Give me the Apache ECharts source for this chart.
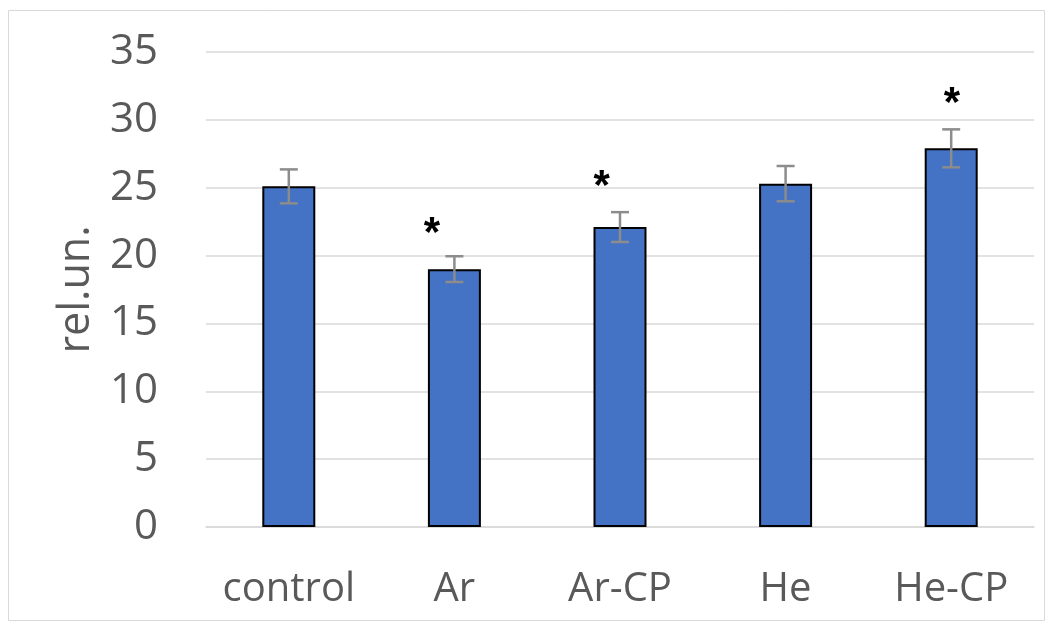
<!DOCTYPE html>
<html><head><meta charset="utf-8">
<script src="https://cdn.jsdelivr.net/npm/echarts@6/dist/echarts.min.js"></script>
<style>html,body{margin:0;padding:0;background:#fff}#c{width:1051px;height:628px}</style>
</head><body><div id="c"></div>
<script>
const categories = ['control', 'Ar', 'Ar-CP', 'He', 'He-CP'];
const values = [25.1, 19.0, 22.1, 25.3, 27.9];
const errors = [1.25, 0.95, 1.1, 1.3, 1.4];
// significance markers: category position (0-based) and height in rel.un.
const starX = [0.865, 1.89, 4.005];
const starY = [22.2, 25.7, 31.8];
const yTicks = { min: 0, max: 35, interval: 5 };

const chart = echarts.init(document.getElementById('c'));
const font = '"Open Sans", "Liberation Sans", sans-serif';
chart.setOption({
  animation: false,
  graphic: [{ type: 'rect', shape: { x: 8.5, y: 10.5, width: 1036, height: 610 }, style: { fill: 'none', stroke: '#d9d9d9', lineWidth: 1 }, silent: true }],
  grid: { left: 206, right: 17, top: 52, bottom: 101 },
  xAxis: [{
    type: 'category', data: categories,
    axisLine: { lineStyle: { color: '#d9d9d9', width: 1.5 } },
    axisTick: { show: false },
    axisLabel: { color: '#595959', fontSize: 40, fontFamily: font, margin: 43, interval: 0 }
  }, {
    type: 'value', min: -0.5, max: 4.5, show: false
  }],
  yAxis: {
    type: 'value', min: yTicks.min, max: yTicks.max, interval: yTicks.interval,
    name: 'rel.un.', nameLocation: 'middle', nameGap: 108,
    nameTextStyle: { color: '#595959', fontSize: 43, fontFamily: font },
    axisLine: { show: false }, axisTick: { show: false },
    axisLabel: { color: '#595959', fontSize: 42, fontFamily: font, margin: 48 },
    splitLine: { lineStyle: { color: '#d9d9d9', width: 1.5 } }
  },
  series: [
    {
      type: 'bar', data: values, barWidth: '32%',
      itemStyle: { color: '#4472C4', borderColor: '#000', borderWidth: 2 }
    },
    {
      type: 'custom', z: 10,
      data: values.map((v, i) => [i, v, errors[i]]),
      renderItem: function (params, api) {
        const i = api.value(0), v = api.value(1), e = api.value(2);
        const top = api.coord([i, v + e]);
        const bot = api.coord([i, v - e]);
        const hw = 9;
        const style = { stroke: '#8c8c8c', lineWidth: 2.5 };
        return { type: 'group', children: [
          { type: 'line', shape: { x1: top[0], y1: top[1], x2: bot[0], y2: bot[1] }, style },
          { type: 'line', shape: { x1: top[0] - hw, y1: top[1], x2: top[0] + hw, y2: top[1] }, style },
          { type: 'line', shape: { x1: bot[0] - hw, y1: bot[1], x2: bot[0] + hw, y2: bot[1] }, style }
        ] };
      }
    },
    {
      type: 'custom', z: 10, xAxisIndex: 1,
      data: starX.map((x, i) => [x, starY[i]]),
      renderItem: function (params, api) {
        const p = api.coord([api.value(0), api.value(1)]);
        return { type: 'text', style: { text: '*', x: p[0], y: p[1] + 9, fill: '#000', font: 'bold 42px "Liberation Sans", sans-serif', textAlign: 'center', textVerticalAlign: 'middle' } };
      }
    }
  ]
});
</script></body></html>
